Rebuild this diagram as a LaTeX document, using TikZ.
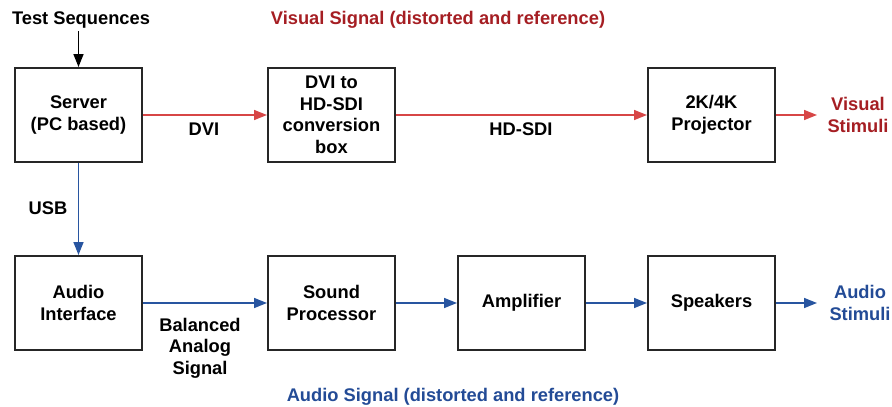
\documentclass[tikz,border=0pt]{standalone}
\usepackage{fontspec}
\setmainfont{Liberation Sans}
\usetikzlibrary{arrows.meta}
\definecolor{vred}{RGB}{165,30,35}
\definecolor{lred}{RGB}{215,70,70}
\definecolor{vblue}{RGB}{35,75,150}
\definecolor{lblue}{RGB}{40,85,160}
\tikzset{
  blk/.style={draw=black!85,line width=2pt,minimum width=127pt,minimum height=94pt,align=center,inner sep=0pt},
  txt/.style={font=\fontsize{18.3}{21.5}\selectfont\bfseries,align=center,inner sep=0pt},
  redarr/.style={draw=lred,line width=1.5pt,-{Triangle[length=13pt,width=10pt]}},
  bluearr/.style={draw=lblue,line width=1.5pt,-{Triangle[length=13pt,width=10pt]}},
  blkarr/.style={draw=black,line width=1.5pt,-{Triangle[length=13pt,width=10pt]}}
}
\begin{document}
\begin{tikzpicture}[x=1pt,y=-1pt]
\useasboundingbox (0,0) rectangle (892,407);
\node[blk,txt] (srv) at (78.5,115) {Server\\(PC based)};
\node[blk,txt] (dvi) at (331.5,115) {DVI to\\HD-SDI\\conversion\\box};
\node[blk,txt] (proj) at (711.5,115) {2K/4K\\Projector};
\node[blk,txt] (ai) at (78.5,303) {Audio\\Interface};
\node[blk,txt] (sp) at (331.5,303) {Sound\\Processor};
\node[blk,txt] (amp) at (521.5,303) {Amplifier};
\node[blk,txt] (spk) at (711.5,303) {Speakers};

\node[txt] (ts) at (81,20) {Test Sequences};
\node[txt,text=vred] (vs) at (438,20) {Visual Signal (distorted and reference)};
\node[txt,text=vred] (vst) at (858,115) {Visual\\Stimuli};
\node[txt,text=vblue] (ast) at (860,303) {Audio\\Stimuli};
\node[txt,text=vblue] (as) at (453,397) {Audio Signal (distorted and reference)};
\node[txt] (ldvi) at (204,129) {DVI};
\node[txt] (lhd) at (521,129) {HD-SDI};
\node[txt] (lusb) at (48,208) {USB};
\node[txt] (lbal) at (200,348) {Balanced\\Analog\\Signal};

\coordinate (tsa) at (78.5,31);
\coordinate (ve) at (817,115);
\coordinate (ae) at (817,303);
\draw[blkarr] (tsa) -- (srv.north);
\draw[redarr] (srv.east) -- (dvi.west);
\draw[redarr] (dvi.east) -- (proj.west);
\draw[redarr] (proj.east) -- (ve);
\draw[bluearr] (srv.south) -- (ai.north);
\draw[bluearr] (ai.east) -- (sp.west);
\draw[bluearr] (sp.east) -- (amp.west);
\draw[bluearr] (amp.east) -- (spk.west);
\draw[bluearr] (spk.east) -- (ae);
\end{tikzpicture}
\end{document}
